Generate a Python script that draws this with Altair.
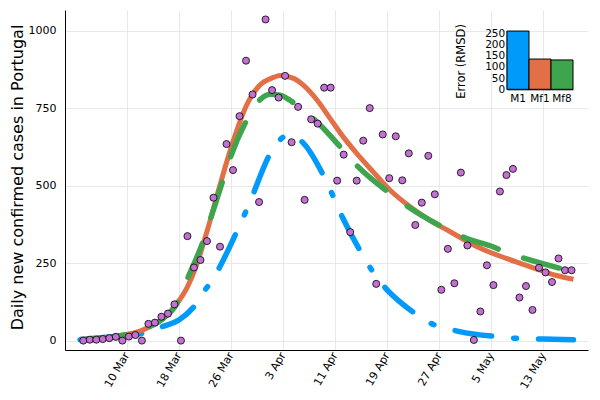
import altair as alt
import pandas as pd

# ---------------- data ----------------
obs_cases = [0, 3, 3, 5, 8, 12, 0, 13, 18, 0, 54, 58, 77, 87, 117, 0,
             337, 236, 260, 321, 461, 303, 634, 550, 724, 903, 794, 447, 1036, 808, 784, 854, 640, 754,
             454, 714, 700, 816, 816, 516, 600, 350, 516, 645, 750, 183, 665, 524, 659, 517, 604,
             373, 445, 596, 472, 164, 296, 185, 542, 307, 2, 94, 243, 179, 481,
             534, 554, 139, 176, 99, 235, 220, 189, 265, 227, 227]

tick_labels = ["10 Mar", "18 Mar", "26 Mar", "3 Apr", "11 Apr", "19 Apr", "27 Apr", "5 May", "13 May"]
tick_pos = [6.66, 14.66, 22.66, 30.66, 38.66, 46.66, 54.66, 62.66, 70.66]

m1_x = [-0.5, 1.0, 6.1, 9.7, 12.1, 14.8, 17.4, 18.9, 19.7, 21.0, 23.8, 25.3, 28.9, 30.5, 31.5,
        33.8, 37.1, 39.9, 42.9, 44.3, 46.7, 48.6, 51.6, 54.0, 55.1, 57.8, 64.0, 66.8, 70.7, 75.3]
m1_y = [3, 6, 16, 26, 45, 68, 120, 169, 190, 239, 362, 432, 610, 653, 664,
        637, 524, 394, 276, 228, 163, 126, 79, 50, 44, 29, 12, 7, 5, 3]

mf1_x = [-0.5, 3, 5.6, 8.2, 10.2, 12.3, 14.3, 15.9, 17.4, 19.0, 21.0, 23.0, 25.1, 27.1, 29.2, 30.2,
         32.3, 33.8, 35.9, 37.9, 39.9, 42.0, 44.5, 47.1, 50.2, 53.2, 56.3, 61.0, 65.0, 67.6, 70.2, 72.7, 75.3]
mf1_y = [4, 8, 16, 27, 45, 72, 117, 169, 244, 352, 502, 642, 760, 824, 849, 855,
         846, 824, 776, 717, 658, 604, 545, 486, 432, 389, 352, 298, 265, 246, 227, 210, 198]

mf8_x = [-0.5, 3, 5.6, 8.2, 10.2, 12.3, 14.3, 15.9, 18.4, 19.5, 21.8, 22.5, 25.1, 27.1, 28.7, 30.2,
         31.7, 33.0, 36.1, 39.9, 42.2, 47.1, 49.9, 55.8, 58.8, 62.5, 65.0, 68.3, 73.7, 75.3]
mf8_y = [4, 8, 16, 27, 45, 72, 117, 195, 320, 390, 540, 585, 711, 776, 795, 792,
         776, 755, 701, 615, 561, 475, 432, 360, 330, 306, 284, 262, 231, 223]

models = ["M1", "Mf1", "Mf8"]
rmsd = [260, 135, 131]
inset_ticks = [0, 50, 100, 150, 200, 250]

# ---------------- styling ----------------
BLUE, ORANGE, GREEN, PURPLE = "#009AFA", "#E26F46", "#3EA44E", "#C271D2"
FONT = "DejaVu Sans"
W, H = 523, 340
x_dom = [-2.81, 77.53]
y_dom = [-30.3, 1066.5]

obs_df = pd.DataFrame({"day": list(range(len(obs_cases))), "cases": obs_cases})
m1_df = pd.DataFrame({"day": m1_x, "cases": m1_y})
mf1_df = pd.DataFrame({"day": mf1_x, "cases": mf1_y})
mf8_df = pd.DataFrame({"day": mf8_x, "cases": mf8_y})
inset_df = pd.DataFrame({"model": models, "rmsd": rmsd})

label_expr = "''"
for p, l in reversed(list(zip(tick_pos, tick_labels))):
    label_expr = f"abs(datum.value - {p}) < 0.05 ? '{l}' : ({label_expr})"

x_enc = alt.X("day:Q", scale=alt.Scale(domain=x_dom, nice=False, zero=False),
              axis=alt.Axis(values=tick_pos, labelExpr=label_expr, labelAngle=-60,
                            labelAlign="right", labelBaseline="middle", labelPadding=3,
                            labelOverlap=False, labelFlush=False, title=None,
                            tickSize=0, ticks=False, orient="bottom"))
y_enc = alt.Y("cases:Q", scale=alt.Scale(domain=y_dom, nice=False, zero=False),
              axis=alt.Axis(values=[0, 250, 500, 750, 1000], format="d",
                            title="Daily new confirmed cases in Portugal",
                            titleFontSize=16, titleAngle=-90, titleX=-48, titleY=167,
                            titleBaseline="middle", titleAlign="center",
                            labelPadding=9, tickSize=0, ticks=False, labelOverlap=False,
                            orient="left"))

m1_line = alt.Chart(m1_df).mark_line(color=BLUE, strokeWidth=5.5, strokeCap="round",
                                      strokeDash=[37, 22, 3, 22], interpolate="monotone").encode(x=x_enc, y=y_enc)
mf1_line = alt.Chart(mf1_df).mark_line(color=ORANGE, strokeWidth=5, interpolate="monotone").encode(x=x_enc, y=y_enc)
mf8_line = alt.Chart(mf8_df).mark_line(color=GREEN, strokeWidth=5.5, strokeCap="round",
                                       strokeDash=[37, 27], strokeDashOffset=56,
                                       interpolate="monotone").encode(x=x_enc, y=y_enc)
pts = alt.Chart(obs_df).mark_point(filled=True, fill=PURPLE, stroke="black", strokeWidth=0.8,
                                   size=50, opacity=1, shape="circle").encode(x=x_enc, y=y_enc)

main = alt.layer(m1_line, mf1_line, mf8_line, pts)

inset = alt.Chart(inset_df).mark_bar(stroke="black", strokeWidth=1, opacity=1).encode(
    x=alt.X("model:N", sort=models,
            scale=alt.Scale(range=[442, 508], paddingInner=0, paddingOuter=0),
            axis=alt.Axis(orient="bottom", offset=-(H - 79.3), title=None, labelAngle=0,
                          ticks=False, tickSize=0, grid=False, labelFontSize=10.5, labelPadding=4,
                          domainColor="black")),
    y=alt.Y("rmsd:Q", scale=alt.Scale(domain=[0, 262], range=[79.3, 20.6], nice=False, zero=False),
            axis=alt.Axis(orient="left", offset=-441.7, values=inset_ticks, format="d",
                          title="Error (RMSD)", titleFontSize=11.5, titleAngle=-90,
                          titleX=-45, titleY=51, titleBaseline="middle", titleAlign="center",
                          labelFontSize=10.5, labelPadding=2, labelOverlap=False, labelFlush=False,
                          ticks=False, tickSize=0, grid=False)),
    color=alt.Color("model:N", scale=alt.Scale(domain=models, range=[BLUE, ORANGE, GREEN]), legend=None),
)

chart = alt.layer(main, inset).resolve_scale(x="independent", y="independent").properties(
    width=W, height=H,
    autosize=alt.AutoSizeParams(type="none"),
    padding={"left": 57, "top": 2, "right": 4, "bottom": 40},
).configure_view(stroke=None).configure_axis(
    labelFont=FONT, titleFont=FONT, labelFontSize=11, labelColor="black", titleColor="black",
    titleFontWeight="normal", domainColor="black", domainWidth=1,
    gridColor="#e8e8e8", gridWidth=1,
)

chart.save("out.html", embed_options={"renderer": "svg", "actions": False})
